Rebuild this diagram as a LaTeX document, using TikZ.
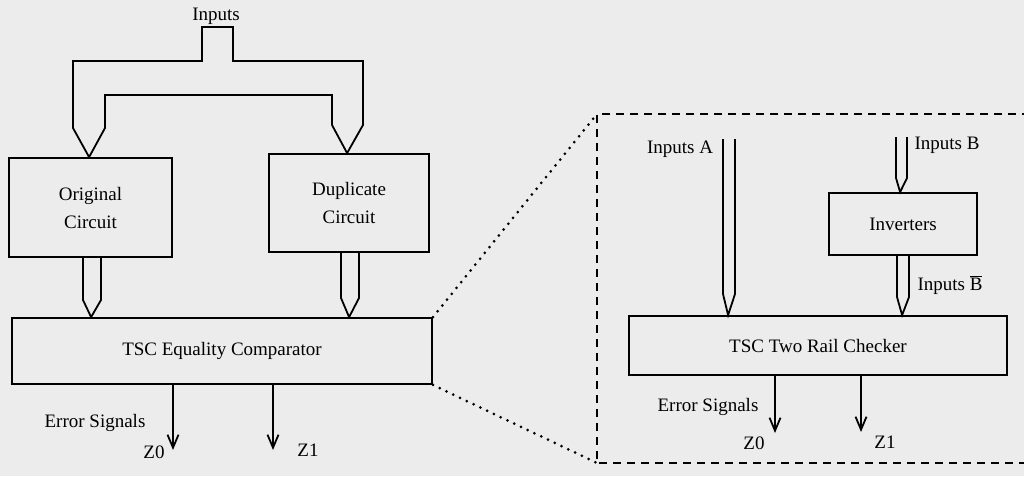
\documentclass[tikz,border=0pt]{standalone}
\usepackage{fontspec}
\setmainfont{Liberation Serif}
\usetikzlibrary{arrows.meta,calc}
\begin{document}
\begin{tikzpicture}[x=1pt,y=-1pt,
  line width=1.8pt, line join=miter,
  txt/.style={inner sep=0pt, font=\fontsize{19}{28}\selectfont},
  blk/.style={draw, line width=1.8pt, inner sep=0pt, align=center, font=\fontsize{19}{28}\selectfont},
  outarrow/.style={-{Straight Barb[length=13pt,width=11pt,line width=1.8pt]}},
  dashedbox/.style={line width=2.2pt, dash pattern=on 8pt off 6pt},
  dotline/.style={line width=3pt, line cap=round, dash pattern=on 0pt off 7.5pt}]
\useasboundingbox (0,0) rectangle (1024,476);
\fill[color={rgb,255:red,236;green,236;blue,236}] (0,0) rectangle (1024,476);

% boxes
\node[blk, minimum width=163pt, minimum height=99pt] (orig) at (90.5,207.5) {Original\\Circuit};
\node[blk, minimum width=160pt, minimum height=98pt] (dup) at (349,203) {Duplicate\\Circuit};
\node[blk, minimum width=420pt, minimum height=66pt] (comp) at (222,351) {TSC Equality Comparator};
\node[blk, minimum width=148pt, minimum height=62pt] (inv) at (903,224) {Inverters};
\node[blk, minimum width=378pt, minimum height=59pt] (trc) at (818,345.5) {TSC Two Rail Checker};

% labels
\node[txt] (inputs) at (216,16) {Inputs};
\node[txt] (err1) at (95,423) {Error Signals};
\node[txt] (z0a) at (154,452) {Z0};
\node[txt] (z1a) at (308,450) {Z1};
\node[txt] (ina) at (680,149) {Inputs A};
\node[txt] (inb) at (947,145) {Inputs B};
\node[txt] (inbb) at (950,285) {Inputs $\overline{\hbox{B}}$};
\node[txt] (err2) at (708,407) {Error Signals};
\node[txt] (z0b) at (754,443) {Z0};
\node[txt] (z1b) at (885,442) {Z1};

% input bus (Inputs -> Original, Duplicate)
\coordinate (tipL) at ($(orig.north west)+(81,0)$);
\coordinate (tipR) at ($(dup.north west)+(79,0)$);
\draw (73,128) -- (73,61) -- (202,61) -- (202,27) -- (233,27) -- (233,61) -- (363,61) -- (363,125) -- (tipR)
      -- (332,125) -- (332,95) -- (105,95) -- (105,128) -- (tipL) -- cycle;

% Original -> comparator
\coordinate (tipO) at ($(comp.north west)+(80,0)$);
\draw (orig.south -| 83,0) -- (83,300) -- (tipO) -- (101,300) -- (orig.south -| 101,0);
% Duplicate -> comparator
\coordinate (tipD) at ($(comp.north west)+(338,0)$);
\draw (dup.south -| 341,0) -- (341,298) -- (tipD) -- (359,298) -- (dup.south -| 359,0);

% comparator outputs
\draw[outarrow] (comp.south -| 173,0) -- (173,450);
\draw[outarrow] (comp.south -| 273,0) -- (273,450);

% dashed detail box
\coordinate (dtl) at (597,114);
\coordinate (dbl) at (597,463);
\draw[dashedbox] (1030,114) -- (dtl) -- (dbl) -- (1030,463);
\draw[dotline] (comp.north east) -- (dtl);
\draw[dotline] (comp.south east) -- (dbl);

% Inputs A -> checker
\coordinate (tipA) at ($(trc.north west)+(100,0)$);
\draw (723,139) -- (723,294) -- (tipA) -- (735,294) -- (735,139);
% Inputs B -> inverters
\coordinate (tipB) at ($(inv.north west)+(72,0)$);
\draw (896,137) -- (896,178) -- (tipB) -- (907,178) -- (907,137);
% inverters -> checker
\coordinate (tipBB) at ($(trc.north west)+(274,0)$);
\draw (inv.south -| 897,0) -- (897,297) -- (tipBB) -- (909,297) -- (inv.south -| 909,0);

% checker outputs
\draw[outarrow] (trc.south -| 775,0) -- (775,433);
\draw[outarrow] (trc.south -| 861,0) -- (861,432);
\end{tikzpicture}
\end{document}
